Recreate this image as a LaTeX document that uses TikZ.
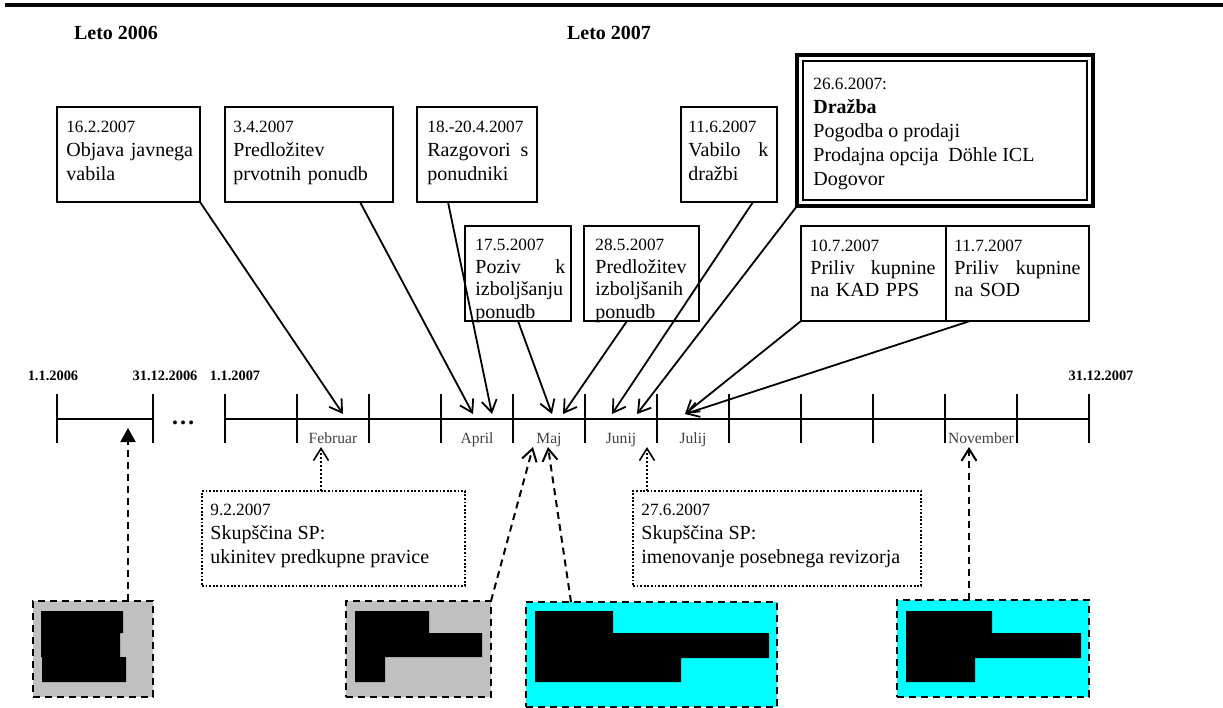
\documentclass[tikz,border=0pt]{standalone}
\usepackage{fontspec}
\setmainfont{Liberation Serif}
\usetikzlibrary{arrows.meta,fit,positioning}

\definecolor{silver}{RGB}{192,192,192}
\definecolor{aqua}{RGB}{0,255,255}
\newcommand\evdate[1]{{\fontsize{8.6}{12}\selectfont #1}}

\begin{document}
\begin{tikzpicture}[x=0.5pt,y=-0.5pt,
        evbox/.style={draw, line width=1.2pt, inner sep=0pt, outer sep=0pt},
        evtext/.style={anchor=north west, inner sep=0pt, align=left,
            font=\fontsize{10}{12}\selectfont},
        lowtext/.style={evtext, font=\fontsize{10}{11.2}\selectfont},
        notebox/.style={draw, line width=1pt, dash pattern=on 0.9pt off 0.9pt,
            inner sep=0pt, outer sep=0pt},
        redbox/.style={draw, line width=1pt, dash pattern=on 3.5pt off 2.5pt,
            inner sep=0pt, outer sep=0pt},
        tick/.style={line width=1.2pt},
        ptr/.style={line width=0.9pt, -{Straight Barb[length=6pt,width=7.5pt]}},
        month/.style={anchor=base, font=\fontsize{7.8}{9}\selectfont, text=black!75},
        daylbl/.style={anchor=base, font=\bfseries\fontsize{7.2}{9}\selectfont},
        yearlbl/.style={anchor=base, font=\bfseries\fontsize{10}{12}\selectfont}]
    \useasboundingbox (0,0) rectangle (1223,708);
    \draw [line width=2pt] (5,5) -- (1223,5);

    \node [yearlbl] (leto6) at (116,39) {Leto 2006};
    \node [yearlbl] (leto7) at (609,39) {Leto 2007};

    % time axis
    \draw [tick] (57,419) -- (153,419);
    \foreach \x in {57,153}
        \draw [tick] (\x,394) -- (\x,443);
    \node [anchor=base, font=\bfseries\fontsize{12}{14}\selectfont] (gap) at (183,424) {\ldots};
    \draw [tick] (225,419) -- (1089,419);
    \foreach \i in {0,...,12}
        \draw [tick] ({225+72*\i},394) -- ({225+72*\i},443);
    \foreach \m/\lab in {1/Februar,3/April,4/Maj,5/Junij,6/Julij,10/November}
        \node [month] (m\m) at ({261+72*\m},443) {\lab};
    \node [daylbl] (d1) at (53,380) {1.1.2006};
    \node [daylbl] (d2) at (165,380) {31.12.2006};
    \node [daylbl] (d3) at (235,380) {1.1.2007};
    \node [daylbl] (d4) at (1101,380) {31.12.2007};

    \coordinate (t1) at (343,414);
    \coordinate (t2) at (473,414);
    \coordinate (t3) at (492,414);
    \coordinate (t4) at (552,414);
    \coordinate (t5) at (563,414);
    \coordinate (t6) at (612,414);
    \coordinate (t7) at (637,414);
    \coordinate (t8) at (685,414);
    \coordinate (u1) at (128,428);
    \coordinate (u2) at (321,447);
    \coordinate (u3) at (533,447);
    \coordinate (u4) at (548,447);
    \coordinate (u5) at (647,447);
    \coordinate (u6) at (969,447);

    % events above the axis
    \node [evbox, fit={(57,107) (200,202)}] (e162) {};
    \node [evtext, text width=63.5pt] (e162t) at ([shift={(9,14)}]e162.north west)
        {\evdate{16.2.2007}\\Objava javnega\\vabila};
    \node [evbox, fit={(225,107) (393,202)}] (e034) {};
    \node [evtext, text width=76pt] (e034t) at ([shift={(8,14)}]e034.north west)
        {\evdate{3.4.2007}\\Predložitev\\prvotnih ponudb};
    \node [evbox, fit={(417,107) (537,202)}] (e184) {};
    \node [evtext, text width=50.5pt] (e184t) at ([shift={(10,14)}]e184.north west)
        {\evdate{18.-20.4.2007}\\Razgovori\hfill s\\ponudniki};
    \node [evbox, fit={(681,107) (777,202)}] (e116) {};
    \node [evtext, text width=40pt] (e116t) at ([shift={(7,14)}]e116.north west)
        {\evdate{11.6.2007}\\Vabilo\hfill k\\dražbi};
    \node [evbox, line width=1.6pt, fit={(797,55) (1093,206)}] (drazba) {};
    \draw [line width=0.9pt] ([shift={(6,6)}]drazba.north west)
        rectangle ([shift={(-6,-6)}]drazba.south east);
    \node [evtext] (drazbat) at ([shift={(16,23)}]drazba.north west)
        {\evdate{26.6.2007:}\\\textbf{Dražba}\\Pogodba o prodaji\\
        Prodajna opcija\ \ Döhle ICL\\Dogovor};
    \node [evbox, fit={(465,226) (571,321)}] (e175) {};
    \node [lowtext, text width=45pt] (e175t) at ([shift={(10,13)}]e175.north west)
        {\evdate{17.5.2007}\\Poziv\hfill k\\izboljšanju\\ponudb};
    \node [evbox, fit={(584,226) (699,321)}] (e285) {};
    \node [lowtext, text width=48.5pt] (e285t) at ([shift={(11,13)}]e285.north west)
        {\evdate{28.5.2007}\\Predložitev\\izboljšanih\\ponudb};
    \node [evbox, fit={(801,226) (946,321)}] (e107) {};
    \node [lowtext, text width=62.5pt] (e107t) at ([shift={(9,14)}]e107.north west)
        {\evdate{10.7.2007}\\Priliv\hfill kupnine\\na KAD PPS};
    \node [evbox, fit={(946,226) (1089,321)}] (e117) {};
    \node [lowtext, text width=63pt] (e117t) at ([shift={(8,14)}]e117.north west)
        {\evdate{11.7.2007}\\Priliv\hfill kupnine\\na SOD};

    \draw [ptr] (e162.south east) -- (t1);
    \draw [ptr] ([shift={(-33,0)}]e034.south east) -- (t2);
    \draw [ptr] ([shift={(31,0)}]e184.south west) -- (t3);
    \draw [ptr] ([shift={(53,0)}]e175.south west) -- (t4);
    \draw [ptr] ([shift={(43,0)}]e285.south west) -- (t5);
    \draw [ptr] ([shift={(-24,0)}]e116.south east) -- (t6);
    \draw [ptr] (drazba.south west) -- (t7);
    \draw [ptr] (e107.south west) -- (t8);
    \draw [ptr] ([shift={(24,0)}]e117.south west) -- (t8);

    % notes below the axis
    \node [notebox, fit={(202,491) (465,586)}] (n092) {};
    \node [evtext] (n092t) at ([shift={(8,13)}]n092.north west)
        {\evdate{9.2.2007}\\Skupščina SP:\\ukinitev predkupne pravice};
    \node [notebox, fit={(633,491) (921,586)}] (n276) {};
    \node [evtext] (n276t) at ([shift={(8,13)}]n276.north west)
        {\evdate{27.6.2007}\\Skupščina SP:\\imenovanje posebnega revizorja};
    \draw [ptr, line width=0.8pt, dash pattern=on 1pt off 1pt]
        ([shift={(119,0)}]n092.north west) -- (u2);
    \draw [ptr, line width=0.8pt, dash pattern=on 1pt off 1pt]
        ([shift={(14,0)}]n276.north west) -- (u5);

    % masked parts
    \node [redbox, fill=silver, fit={(33,601) (153,697)}] (r1) {};
    \fill (41,611) rectangle (123,633) (41,633) rectangle (120,657)
        (42,657) rectangle (126,682);
    \node [redbox, fill=silver, fit={(346,601) (491,697)}] (r2) {};
    \fill (355,611) rectangle (429,633) (355,633) rectangle (482,657)
        (355,657) rectangle (385,682);
    \node [redbox, fill=aqua, fit={(526,602) (777,707)}] (r3) {};
    \fill (535,611) rectangle (613,633) (535,633) rectangle (769,658)
        (535,658) rectangle (681,682);
    \node [redbox, fill=aqua, fit={(897,600) (1089,697)}] (r4) {};
    \fill (906,611) rectangle (992,633) (906,633) rectangle (1081,658)
        (906,658) rectangle (975,682);

    \draw [line width=1pt, dash pattern=on 3.5pt off 2.5pt,
        -{Triangle[length=7pt,width=7.5pt]}] ([shift={(95,0)}]r1.north west) -- (u1);
    \draw [ptr, line width=1pt, dash pattern=on 3.5pt off 2.5pt] (r2.north east) -- (u3);
    \draw [ptr, line width=1pt, dash pattern=on 3.5pt off 2.5pt]
        ([shift={(45,0)}]r3.north west) -- (u4);
    \draw [ptr, line width=1pt, dash pattern=on 3.5pt off 2.5pt]
        ([shift={(72,0)}]r4.north west) -- (u6);
\end{tikzpicture}
\end{document}
